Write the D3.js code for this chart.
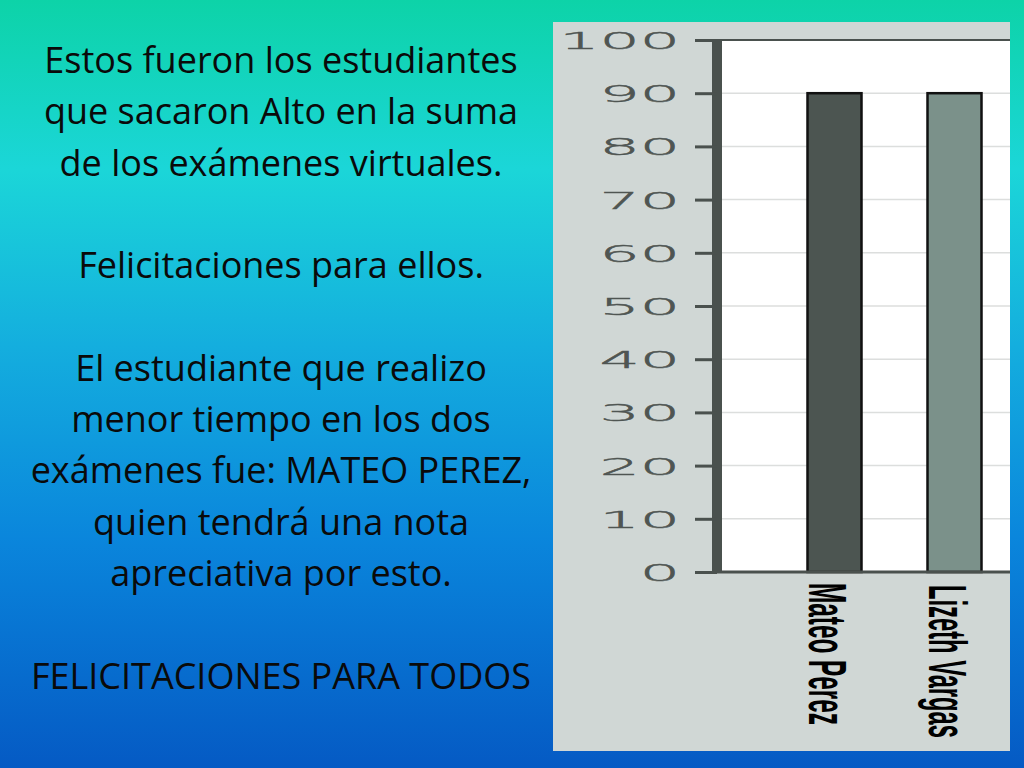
<!DOCTYPE html>
<html>
<head>
<meta charset="utf-8">
<script src="https://cdn.jsdelivr.net/npm/d3@7"></script>
<style>
  html, body { margin: 0; padding: 0; overflow: hidden; }
</style>
</head>
<body>
<svg id="slide"></svg>
<script>
const width = 1024, height = 768;

// chart data
const students = ["Mateo Perez", "Lizeth Vargas"];
const scores = [90, 90];
const barColors = ["#4c5551", "#7b918a"];
const yTicks = [0, 10, 20, 30, 40, 50, 60, 70, 80, 90, 100];

// slide text
const textLines = [
    "Estos fueron los estudiantes",
    "que sacaron Alto en la suma",
    "de los exámenes virtuales.",
    "",
    "Felicitaciones para ellos.",
    "",
    "El estudiante que realizo",
    "menor tiempo en los dos",
    "exámenes fue: MATEO PEREZ,",
    "quien tendrá una nota",
    "apreciativa por esto.",
    "",
    "FELICITACIONES PARA TODOS"
];

const svg = d3.select("#slide")
    .attr("width", width)
    .attr("height", height);

// Background gradient
const grad = svg.append("defs").append("linearGradient")
    .attr("id", "bg")
    .attr("x1", 0).attr("y1", 0).attr("x2", 0).attr("y2", 1);
[["0%", "#0dd3a8"], ["22%", "#1bd6d8"], ["45%", "#14aede"], ["70%", "#0a86dc"], ["100%", "#055ac4"]]
    .forEach(s => grad.append("stop").attr("offset", s[0]).attr("stop-color", s[1]));

svg.append("rect")
    .attr("width", width)
    .attr("height", height)
    .attr("fill", "url(#bg)");

// Left text block
svg.append("g")
    .selectAll("text")
    .data(textLines)
    .enter().append("text")
    .attr("x", 281)
    .attr("y", (d, i) => 73 + i * 51.3)
    .attr("text-anchor", "middle")
    .style("font-family", "'Open Sans', Lato, sans-serif")
    .style("font-size", "36px")
    .attr("fill", "#0a0a0a")
    .text(d => d);

// Chart panel (gray image box)
const panel = { left: 553, top: 22, right: 1010, bottom: 751 };
svg.append("rect")
    .attr("x", panel.left)
    .attr("y", panel.top)
    .attr("width", panel.right - panel.left)
    .attr("height", panel.bottom - panel.top)
    .attr("fill", "#d0d7d5");

const plot = { left: 722, right: 1010, top: 40, bottom: 572 };

const yScale = d3.scaleLinear()
    .domain([0, 100])
    .range([plot.bottom, plot.top]);

const xScale = d3.scaleBand()
    .domain(students)
    .range([plot.left, plot.right])
    .paddingInner(0.55)
    .paddingOuter(0.475)
    .align(0.75);

// white plot area
svg.append("rect")
    .attr("x", plot.left)
    .attr("y", plot.top)
    .attr("width", plot.right - plot.left)
    .attr("height", plot.bottom - plot.top)
    .attr("fill", "#ffffff");

// grid lines
svg.append("g")
    .selectAll("line")
    .data(yTicks.slice(1, -1))
    .enter().append("line")
    .attr("x1", plot.left)
    .attr("x2", plot.right)
    .attr("y1", d => yScale(d))
    .attr("y2", d => yScale(d))
    .attr("stroke", "#dcdedd")
    .attr("stroke-width", 1.5);

// top border
svg.append("line")
    .attr("x1", plot.left - 8)
    .attr("x2", plot.right)
    .attr("y1", plot.top)
    .attr("y2", plot.top)
    .attr("stroke", "#4a514e")
    .attr("stroke-width", 2);

// bars
svg.append("g")
    .selectAll("rect")
    .data(students)
    .enter().append("rect")
    .attr("x", d => xScale(d))
    .attr("y", (d, i) => yScale(scores[i]))
    .attr("width", xScale.bandwidth())
    .attr("height", (d, i) => plot.bottom - yScale(scores[i]))
    .attr("fill", (d, i) => barColors[i])
    .attr("stroke", "#111")
    .attr("stroke-width", 2.5);

// y axis
const yAxis = svg.append("g")
    .attr("transform", `translate(${plot.left - 5}, 0)`)
    .call(d3.axisLeft(yScale).tickValues(yTicks).tickSize(22).tickPadding(0));

yAxis.select(".domain")
    .attr("d", `M0,${plot.top}V${plot.bottom + 1}`)
    .attr("stroke", "#4a514e")
    .attr("stroke-width", 10);

yAxis.selectAll(".tick line")
    .attr("stroke", "#4a514e")
    .attr("stroke-width", 3);

yAxis.selectAll(".tick text")
    .attr("x", null)
    .attr("dy", null)
    .attr("transform", "translate(-37, 8.4) scale(2.75, 1)")
    .attr("text-anchor", "end")
    .style("font-family", "'DejaVu Sans', sans-serif")
    .style("font-weight", "200")
    .style("font-size", "23px")
    .attr("fill", "#4f5552")
    .attr("stroke", "#4f5552")
    .attr("stroke-width", 0.45);

// x axis baseline
svg.append("line")
    .attr("x1", plot.left - 5)
    .attr("x2", plot.right)
    .attr("y1", plot.bottom)
    .attr("y2", plot.bottom)
    .attr("stroke", "#4a514e")
    .attr("stroke-width", 3);

// x labels, rotated
svg.append("g")
    .selectAll("text")
    .data(students)
    .enter().append("text")
    .attr("transform", (d, i) => `translate(${xScale(d) + 1}, ${583 + i * 2}) rotate(90)`)
    .attr("textLength", (d, i) => i === 0 ? 142 : 153)
    .attr("lengthAdjust", "spacingAndGlyphs")
    .style("font-family", "'Liberation Sans', Arial, sans-serif")
    .style("font-weight", "bold")
    .style("font-size", "54px")
    .attr("fill", "#000")
    .text(d => d);
</script>
</body>
</html>
